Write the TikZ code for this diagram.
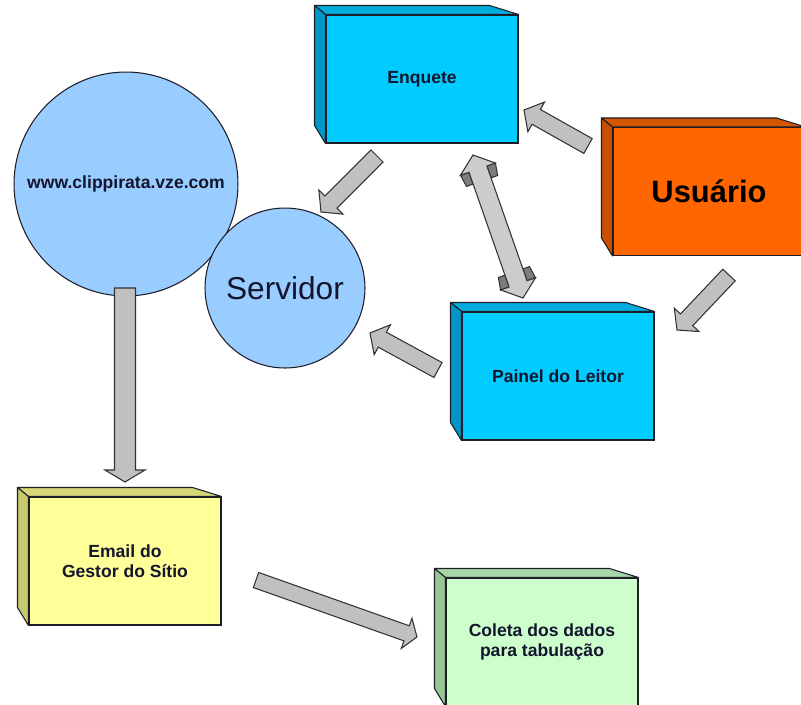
\documentclass[tikz,border=0pt]{standalone}
\usepackage{fontspec}
\setmainfont{Liberation Sans}
\usetikzlibrary{calc}
\definecolor{contorno}{RGB}{30,30,40}
\definecolor{texto}{RGB}{20,20,45}
\definecolor{ciano}{RGB}{0,204,255}
\definecolor{cianot}{RGB}{0,172,222}
\definecolor{cianol}{RGB}{0,150,200}
\definecolor{laranja}{RGB}{255,102,0}
\definecolor{laranjat}{RGB}{214,86,0}
\definecolor{laranjal}{RGB}{200,80,0}
\definecolor{amarelo}{RGB}{255,255,153}
\definecolor{amarelot}{RGB}{214,214,122}
\definecolor{amarelol}{RGB}{200,200,110}
\definecolor{verde}{RGB}{204,255,204}
\definecolor{verdet}{RGB}{168,214,168}
\definecolor{verdel}{RGB}{150,200,150}
\definecolor{azulc}{RGB}{153,204,255}
\definecolor{cinza}{RGB}{192,192,192}
\definecolor{cinzac}{RGB}{204,204,204}
\definecolor{cinzaf}{RGB}{125,125,125}
\definecolor{cinzae}{RGB}{50,50,50}
\tikzset{
  caixa/.style={draw=contorno, line width=0.6pt, minimum width=3.84cm, minimum height=2.56cm,
    inner sep=0pt, align=center, text=texto, font=\fontsize{10}{11.3}\selectfont\bfseries},
  face/.style={draw=contorno, line width=0.6pt, line join=round},
  bola/.style={circle, draw=contorno, line width=0.6pt, fill=azulc, inner sep=0pt, text=texto},
  bloco/.style={draw=cinzae, fill=cinza, line width=0.6pt, line join=miter},
}
% faces de cima e da esquerda de uma caixa
\newcommand{\faces}[3]{%
  \draw[face,fill=#2] (#1.north west) -- ++(-11,-9) -- ($(#1.north east)+(-29,-9)$) -- (#1.north east) -- cycle;
  \draw[face,fill=#3] (#1.north west) -- ++(-11,-9) -- ($(#1.south west)+(-11,-18)$) -- (#1.south west) -- cycle;
}
% seta larga: cauda, ponta, meia largura, meia cabeca, comprimento da cabeca
\newcommand{\seta}[5]{%
  \path ($(#2)!#5!(#1)$) coordinate (hb);
  \draw[bloco] ($(#1)!#3!90:(#2)$) -- ($(hb)!#3!90:(#2)$) -- ($(hb)!#4!90:(#2)$) -- (#2)
    -- ($(hb)!#4!-90:(#2)$) -- ($(hb)!#3!-90:(#2)$) -- ($(#1)!#3!-90:(#2)$) -- cycle;
}
% seta dupla com abas escuras
\newcommand{\setadupla}[2]{%
  \path ($(#1)!0.3cm!(#2)$) coordinate (ha) ($(#2)!0.3cm!(#1)$) coordinate (hb)
        ($(#1)!0.55cm!(#2)$) coordinate (ha2) ($(#2)!0.55cm!(#1)$) coordinate (hb2);
  \foreach \s in {90,-90}{
    \draw[bloco,fill=cinzaf] ($(ha)!0.37cm!\s:(#2)$) -- ($(ha)!0.19cm!\s:(#2)$) -- ($(ha2)!0.19cm!\s:(#2)$) -- ($(ha2)!0.33cm!\s:(#2)$) -- cycle;
    \draw[bloco,fill=cinzaf] ($(hb)!0.37cm!\s:(#1)$) -- ($(hb)!0.19cm!\s:(#1)$) -- ($(hb2)!0.19cm!\s:(#1)$) -- ($(hb2)!0.33cm!\s:(#1)$) -- cycle;
  }
  \draw[bloco,fill=cinzac] (#1) -- ($(ha)!0.37cm!90:(#2)$) -- ($(ha)!0.19cm!90:(#2)$) -- ($(hb)!0.19cm!-90:(#1)$)
    -- ($(hb)!0.37cm!-90:(#1)$) -- (#2) -- ($(hb)!0.37cm!90:(#1)$) -- ($(hb)!0.19cm!90:(#1)$)
    -- ($(ha)!0.19cm!-90:(#2)$) -- ($(ha)!0.37cm!-90:(#2)$) -- cycle;
}
\begin{document}
\begin{tikzpicture}[x=0.02cm,y=-0.02cm]
  \path[use as bounding box,fill=white] (0,0) rectangle (801,704);
  % Caixas
  \node[caixa,fill=ciano] (enquete) at (422,79) {Enquete};
  \faces{enquete}{cianot}{cianol}
  \node[caixa,fill=ciano] (painel) at (558,376) {Painel do Leitor};
  \faces{painel}{cianot}{cianol}
  \node[caixa,fill=laranja,text=black,font=\fontsize{17.6}{20}\selectfont\bfseries] (usuario) at (709,191.5) {Usuário};
  \faces{usuario}{laranjat}{laranjal}
  \node[caixa,fill=amarelo] (email) at (125,561) {Email do\\Gestor do Sítio};
  \faces{email}{amarelot}{amarelol}
  \node[caixa,fill=verde] (coleta) at (542,642) {Coleta dos dados\\para tabulação};
  \faces{coleta}{verdet}{verdel}
  % Circulos
  \node[bola,minimum size=4.48cm,font=\fontsize{10}{12}\selectfont\bfseries] (site) at (126,184) {www.clippirata.vze.com};
  \node[bola,minimum size=3.2cm,font=\fontsize{18}{20}\selectfont] (servidor) at (285,288) {Servidor};
  % Pontos das setas
  \coordinate (c1) at (377,156); \coordinate (p1) at (321,212);
  \coordinate (c2) at (588,146); \coordinate (p2) at (524,110);
  \coordinate (c3) at (729,275); \coordinate (p3) at (677,330);
  \coordinate (c4) at (438,370); \coordinate (p4) at (370,333);
  \coordinate (c5) at (125,288); \coordinate (p5) at (125,482);
  \coordinate (c6) at (256,580); \coordinate (p6) at (417,637);
  \coordinate (d1) at (473,155); \coordinate (d2) at (523,298);
  % Setas
  \seta{c1}{p1}{0.17cm}{0.34cm}{0.28cm}
  \seta{c2}{p2}{0.17cm}{0.34cm}{0.28cm}
  \seta{c3}{p3}{0.17cm}{0.34cm}{0.28cm}
  \seta{c4}{p4}{0.17cm}{0.34cm}{0.28cm}
  \seta{c5}{p5}{0.21cm}{0.4cm}{0.24cm}
  \seta{c6}{p6}{0.16cm}{0.32cm}{0.22cm}
  \setadupla{d1}{d2}
\end{tikzpicture}
\end{document}
